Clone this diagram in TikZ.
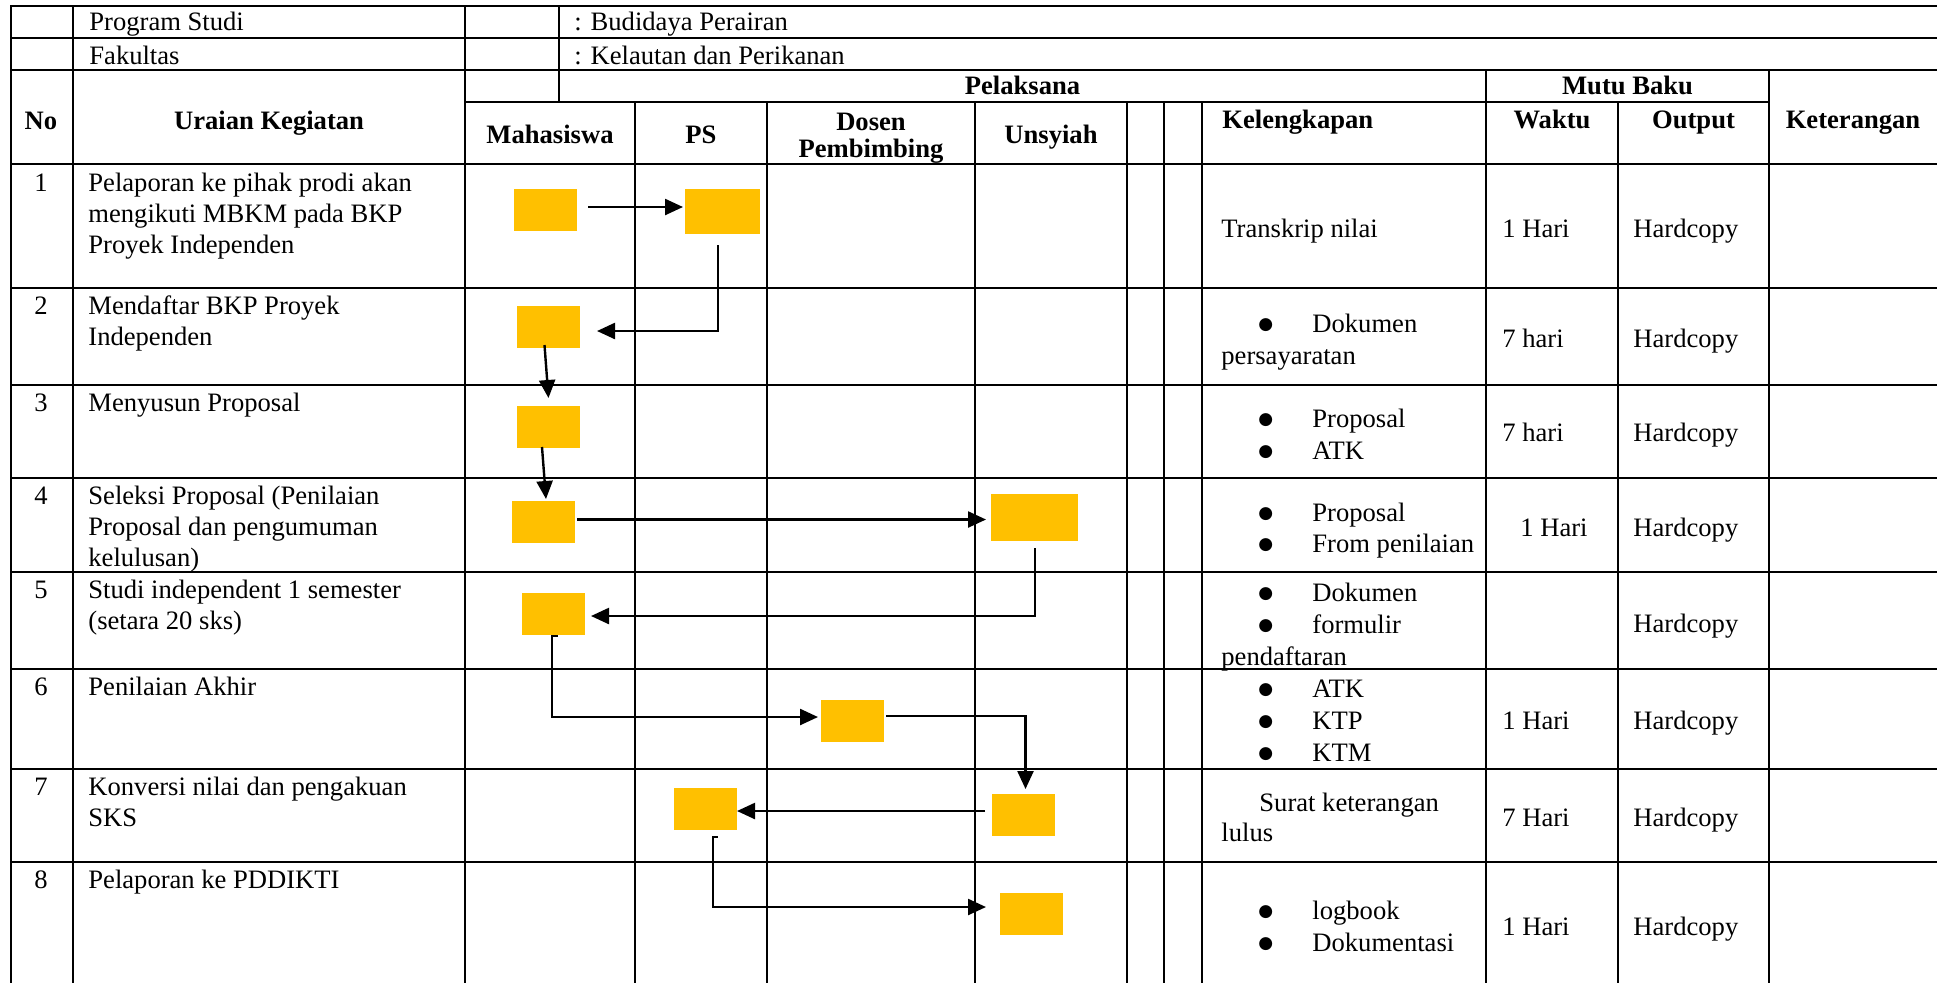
\documentclass[tikz,border=0pt]{standalone}
\usepackage{fontspec}
\setmainfont{Liberation Serif}
\newfontfamily\dotfont{DejaVu Sans}
\usetikzlibrary{arrows.meta,calc}
\definecolor{boxyellow}{HTML}{FFC000}
\newcommand\cellfont{\fontsize{13.3}{15.5}\selectfont}
\newcommand\listfont{\fontsize{13.3}{16}\selectfont}
\newcommand\fs{\rule{0pt}{11pt}}
\newcommand\bul{\hspace*{18.5pt}\makebox[27pt][l]{\raisebox{1.3pt}{\dotfont\fontsize{8.5}{8.5}\selectfont ●}}}
\begin{document}
\begin{tikzpicture}[x=0.5pt,y=-0.5pt,
  gridline/.style={line width=1.2pt, line cap=rect},
  tx/.style={inner sep=0pt, anchor=base west, font=\cellfont},
  hd/.style={inner sep=0pt, anchor=base, font=\cellfont\bfseries},
  cell/.style={inner sep=0pt, anchor=north west, align=left, font=\cellfont},
  lcell/.style={inner sep=0pt, anchor=north west, align=left, font=\listfont},
  num/.style={inner sep=0pt, anchor=base, font=\cellfont},
  ybox/.style={fill=boxyellow, draw=none, inner sep=0pt, outer sep=0pt,
               minimum width=31.5pt, minimum height=21pt},
  conn/.style={line width=1.2pt, -{Triangle[length=9pt,width=8pt]}}]
\useasboundingbox (0,0) rectangle (1937,982);
\fill[white] (0,0) rectangle (1937,982);

% ---- table grid ----
\foreach \y in {6,38,70,164,288,385,478,572,669,769,862}
  \draw[gridline] (11,\y) -- (1945,\y);
\draw[gridline] (465,102) -- (1769,102);
\foreach \x in {11,73,465}
  \draw[gridline] (\x,6) -- (\x,990);
\draw[gridline] (559,6) -- (559,102);
\foreach \x in {635,767,975,1127,1164,1202,1618}
  \draw[gridline] (\x,102) -- (\x,990);
\foreach \x in {1486,1769}
  \draw[gridline] (\x,70) -- (\x,990);

% ---- top rows ----
\node[tx] (lps) at (89,30) {Program Studi};
\node[tx] (lfk) at (89,64) {Fakultas};
\node[tx] (vps) at (574,30) {: Budidaya Perairan};
\node[tx] (vfk) at (574,64) {: Kelautan dan Perikanan};

% ---- header ----
\node[hd] (hno) at (41,129) {No};
\node[hd] (hur) at (269,129) {Uraian Kegiatan};
\node[hd] (hpel) at (1022.5,94) {Pelaksana};
\node[hd] (hmutu) at (1627.5,94) {Mutu Baku};
\node[hd] (hmhs) at (550,143) {Mahasiswa};
\node[hd] (hps) at (701,143) {PS};
\node[hd] (hdos) at (871,130) {Dosen};
\node[hd] (hpem) at (871,157) {Pembimbing};
\node[hd] (huns) at (1051,143) {Unsyiah};
\node[hd, anchor=base west] (hkel) at (1222,128) {Kelengkapan};
\node[hd] (hwak) at (1552,128) {Waktu};
\node[hd] (hout) at (1693.5,128) {Output};
\node[hd] (hket) at (1853,128) {Keterangan};

% ---- numbers ----
\node[num] (n1) at (41,191) {1};
\node[num] (n2) at (41,314) {2};
\node[num] (n3) at (41,411) {3};
\node[num] (n4) at (41,504) {4};
\node[num] (n5) at (41,598) {5};
\node[num] (n6) at (41,695) {6};
\node[num] (n7) at (41,795) {7};
\node[num] (n8) at (41,888) {8};

% ---- activities ----
\node[cell] (u1) at (88,169) {\fs Pelaporan ke pihak prodi akan\\mengikuti MBKM pada BKP\\Proyek Independen};
\node[cell] (u2) at (88,292) {\fs Mendaftar BKP Proyek\\Independen};
\node[cell] (u3) at (88,389) {\fs Menyusun Proposal};
\node[cell] (u4) at (88,482) {\fs Seleksi Proposal (Penilaian\\Proposal dan pengumuman\\kelulusan)};
\node[cell] (u5) at (88,576) {\fs Studi independent 1 semester\\(setara 20 sks)};
\node[cell] (u6) at (88,673) {\fs Penilaian Akhir};
\node[cell] (u7) at (88,773) {\fs Konversi nilai dan pengakuan\\SKS};
\node[cell] (u8) at (88,866) {\fs Pelaporan ke PDDIKTI};

% ---- requirements ----
\node[tx] (k1) at (1221,237) {Transkrip nilai};
\node[lcell] (k2) at (1221,310) {\fs\bul Dokumen\\persayaratan};
\node[lcell] (k3) at (1221,405) {\fs\bul Proposal\\\bul ATK};
\node[cell] (k4) at (1221,499) {\fs\bul Proposal\\\bul From penilaian};
\node[lcell] (k5) at (1221,579) {\fs\bul Dokumen\\\bul formulir\\pendaftaran};
\node[lcell] (k6) at (1221,675) {\fs\bul ATK\\\bul KTP\\\bul KTM};
\node[cell, font=\fontsize{13.3}{15}\selectfont] (k7) at (1221,789) {\fs\hspace*{19pt}Surat keterangan\\lulus};
\node[lcell] (k8) at (1221,897) {\fs\bul logbook\\\bul Dokumentasi};

% ---- time and output ----
\node[tx] (w1) at (1502,237) {1 Hari};
\node[tx] (w2) at (1502,347) {7 hari};
\node[tx] (w3) at (1502,441) {7 hari};
\node[tx] (w4) at (1520,536) {1 Hari};
\node[tx] (w6) at (1502,729) {1 Hari};
\node[tx] (w7) at (1502,826) {7 Hari};
\node[tx] (w8) at (1502,935) {1 Hari};
\foreach \r/\b in {1/237,2/347,3/441,4/536,5/632,6/729,7/826,8/935}
  \node[tx] (o\r) at (1633,\b) {Hardcopy};

% ---- flow boxes ----
\node[ybox] (A) at (545.5,210) {};
\node[ybox, minimum width=37.5pt, minimum height=22.5pt] (B) at (722.5,211.5) {};
\node[ybox] (C) at (548.5,327) {};
\node[ybox] (D) at (548.5,427) {};
\node[ybox] (E) at (543.5,522) {};
\node[ybox, minimum width=43.5pt, minimum height=23.5pt] (F) at (1034.5,517.5) {};
\node[ybox] (G) at (553.5,614) {};
\node[ybox] (H) at (852.5,721) {};
\node[ybox] (I) at (1023.5,815) {};
\node[ybox] (J) at (705.5,809) {};
\node[ybox] (K) at (1031.5,914) {};

% ---- flow connectors ----
\draw[conn] ($(A.east)+(11,-3)$) -- ($(B.west)+(-2,-4.5)$);
\draw[conn] ($(B.south)+(-4.5,11)$) |- ($(C.east)+(17,4)$);
\draw[conn] ($(C.south)+(-4,-3)$) -- ($(D.north)+(0,-8)$);
\draw[conn] ($(D.south)+(-6.5,-1)$) -- ($(E.north)+(2.5,-2)$);
\draw[conn] ($(E.east)+(2,-2.5)$) -- ($(F.west)+(-5,2)$);
\draw[conn] ($(F.south)+(0.5,7)$) |- ($(G.east)+(6,2)$);
\draw[conn] ($(G.south)+(4,1)$) -- ($(G.south)+(-1.5,1)$) |- ($(H.west)+(-3,-4)$);
\draw[conn] ($(H.east)+(2,-5)$) -| ($(I.north)+(2,-5)$);
\draw[conn] ($(I.west)+(-7,-4)$) -- ($(J.east)+(0,2)$);
\draw[conn] ($(J.south)+(12,7)$) -- ($(J.south)+(7.5,7)$) |- ($(K.west)+(-14,-7)$);
\end{tikzpicture}
\end{document}
